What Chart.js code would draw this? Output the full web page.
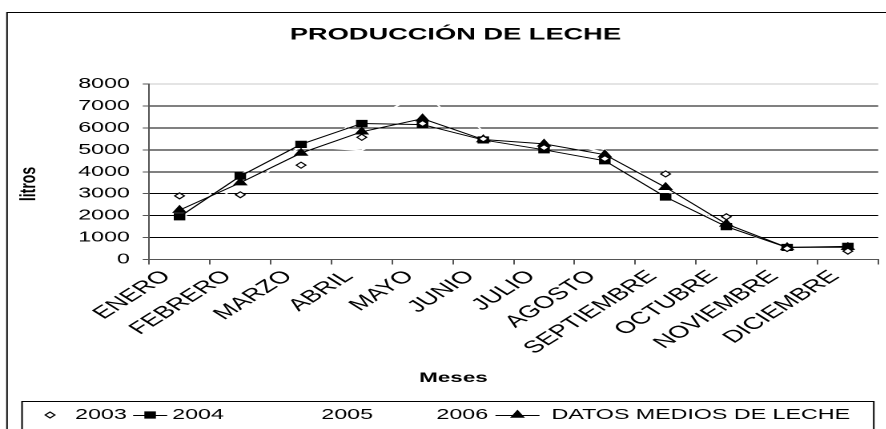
<!DOCTYPE html>
<html><head><meta charset="utf-8">
<script src="https://cdn.jsdelivr.net/npm/chart.js@4/dist/chart.umd.min.js"></script>
<style>
html,body{margin:0;padding:0;background:#fff;overflow:hidden}
#wrap{position:absolute;left:0;top:0;height:429px;transform-origin:0 0}
</style></head><body>
<div id="wrap"><canvas id="c"></canvas></div>
<script>
// ---- data ----
const months = ['ENERO','FEBRERO','MARZO','ABRIL','MAYO','JUNIO','JULIO','AGOSTO','SEPTIEMBRE','OCTUBRE','NOVIEMBRE','DICIEMBRE'];
const prod2003 = [2900, 2950, 4300, 5570, 6200, 5500, 5100, 4600, 3900, 1950, 500, 380];
const prod2004 = [1950, 3800, 5250, 6200, 6150, 5450, 5000, 4500, 2850, 1500, 550, 600];
const prod2005 = [2100, 3900, 5100, 4980, 5850, 5300, 5400, 4900, 3300, 1500, 600, 600];
const prod2006 = [1850, 3350, 4750, 6450, 7400, 5900, 5500, 5000, 3150, 1450, 550, 620];
const mediaLeche = [2250, 3500, 4850, 5820, 6420, 5470, 5270, 4780, 3290, 1620, 550, 560];
const seriesNames = ['2003', '2004', '2005', '2006', 'DATOS MEDIOS DE LECHE'];
const titleText = 'PRODUCCIÓN DE LECHE';
const xTitle = 'Meses';
const yTitle = 'litros';
const yMin = 0, yMax = 8000, yStep = 1000;

// ---- layout (horizontal stretch like the reference) ----
const S = 1.6;
const W = 886 / S;
const X = v => v / S;
const wrap = document.getElementById('wrap');
wrap.style.width = W + 'px';
wrap.style.transform = 'scaleX(' + S + ')';
const FAM = '"Liberation Sans", Arial, Helvetica, sans-serif';

const legendItems = [
  {ds: 0, mark: 50, line: false, text: 75},
  {ds: 1, from: 133, to: 167, text: 172, line: true},
  {ds: 2, mark: 290, line: false, text: 321},
  {ds: 3, mark: 405, line: false, text: 436},
  {ds: 4, from: 495, to: 539, text: 551, line: true}
];

const deco = {
  id: 'deco',
  afterDraw(chart) {
    const ctx = chart.ctx;
    ctx.save();
    ctx.strokeStyle = '#000';
    ctx.lineWidth = 1;
    ctx.strokeRect(X(7), 12.5, X(900), 440);
    ctx.fillStyle = '#000';
    ctx.textAlign = 'center';
    ctx.textBaseline = 'middle';
    ctx.font = 'bold 17px ' + FAM;
    ctx.fillText(titleText, X(455), 35);
    ctx.font = 'bold 14px ' + FAM;
    ctx.fillText(xTitle, X(453), 378);
    ctx.save();
    ctx.translate(X(29), 184);
    ctx.rotate(-Math.PI / 2);
    ctx.fillText(yTitle, 0, 0);
    ctx.restore();
    // legend
    ctx.strokeRect(X(22), 401.5, X(851), 40);
    ctx.font = '14.5px ' + FAM;
    ctx.textAlign = 'left';
    const ly = 415;
    legendItems.forEach(it => {
      const ds = chart.data.datasets[it.ds];
      if (it.line) {
        ctx.strokeStyle = ds.borderColor;
        ctx.lineWidth = 1;
        ctx.beginPath();
        ctx.moveTo(X(it.from), ly + 0.5);
        ctx.lineTo(X(it.to), ly + 0.5);
        ctx.stroke();
      }
      const mx = it.line ? (it.from + it.to) / 2 : it.mark;
      if (ds.pointRadius > 0) {
        ctx.fillStyle = ds.pointBackgroundColor;
        ctx.strokeStyle = ds.pointBorderColor;
        Chart.helpers.drawPoint(ctx, {pointStyle: ds.pointStyle, radius: ds.pointRadius, rotation: 0, borderWidth: 1}, X(mx), ly);
      }
      ctx.fillStyle = '#000';
      ctx.fillText(ds.label, X(it.text), ly);
    });
    ctx.restore();
  }
};

new Chart(document.getElementById('c'), {
  type: 'line',
  data: {
    labels: months,
    datasets: [
      {label: seriesNames[0], data: prod2003, showLine: false, pointStyle: 'rectRot', pointRadius: 3, pointBackgroundColor: '#fff', pointBorderColor: '#000', pointBorderWidth: 1, borderColor: '#000', order: 0},
      {label: seriesNames[1], data: prod2004, borderColor: '#000', borderWidth: 1, pointStyle: 'rect', pointRadius: 4.4, pointBackgroundColor: '#000', pointBorderColor: '#000', pointBorderWidth: 1, order: 2},
      {label: seriesNames[2], data: prod2005, borderColor: '#fff', borderWidth: 1, pointRadius: 0, pointBackgroundColor: '#fff', pointBorderColor: '#fff', order: 3},
      {label: seriesNames[3], data: prod2006, borderColor: '#fff', borderWidth: 1, pointRadius: 0, pointBackgroundColor: '#fff', pointBorderColor: '#fff', order: 3},
      {label: seriesNames[4], data: mediaLeche, borderColor: '#000', borderWidth: 1, pointStyle: 'triangle', pointRadius: 4.4, pointBackgroundColor: '#000', pointBorderColor: '#000', pointBorderWidth: 1, order: 1}
    ]
  },
  options: {
    responsive: true,
    maintainAspectRatio: false,
    animation: false,
    devicePixelRatio: 2,
    layout: {padding: {left: 0, right: X(5), top: 84, bottom: 0}},
    plugins: {legend: {display: false}, title: {display: false}, tooltip: {enabled: false}},
    elements: {line: {tension: 0}},
    scales: {
      x: {
        offset: true,
        grid: {offset: true, drawOnChartArea: false, drawTicks: true, tickLength: 5, color: '#555'},
        border: {color: '#555', width: 1},
        ticks: {minRotation: 45, maxRotation: 45, autoSkip: false, color: '#000', font: {size: 17, family: FAM}, padding: 2, labelOffset: -8},
        afterFit(scale) { scale.height = 429 - 259.5; }
      },
      y: {
        min: yMin, max: yMax,
        ticks: {stepSize: yStep, color: '#000', font: {size: 14.5, family: FAM}, padding: 8, callback: v => String(v)},
        grid: {color: c => (c.tick && c.tick.value === yMax) ? '#c8c8c8' : '#000', tickColor: '#555', lineWidth: 1, tickLength: 4},
        border: {color: '#555', width: 1},
        afterFit(scale) { scale.width = X(149); }
      }
    }
  },
  plugins: [deco]
});
</script>
</body></html>
